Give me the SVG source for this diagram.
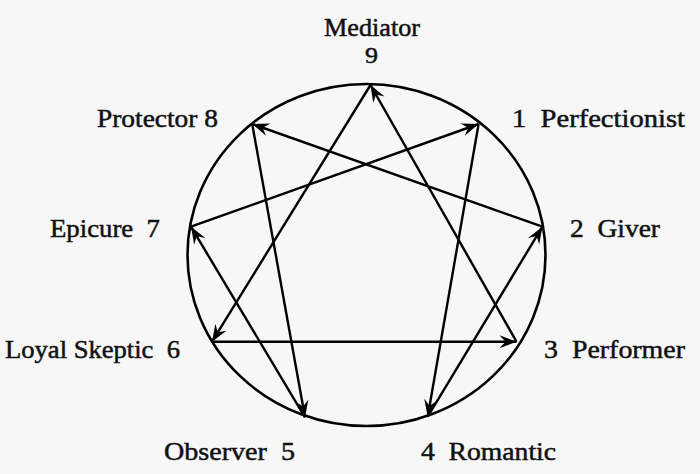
<svg xmlns="http://www.w3.org/2000/svg" width="700" height="474" viewBox="0 0 700 474">
<defs>
<marker id="ah" markerUnits="userSpaceOnUse" markerWidth="20" markerHeight="16" viewBox="-18 -8 20 16" refX="0" refY="0" orient="auto">
<path d="M0,0 L-17,-6.5 L-11,0 L-17,6.5 Z" fill="#000"/>
</marker>
<style>
.lbl{font-family:"Liberation Serif","Times New Roman",serif;font-size:26px;fill:#111;stroke:#111;stroke-width:0.5;white-space:pre}
.c{fill:none;stroke:#000;stroke-width:2.6}
.e{stroke:#000;stroke-width:2.4;fill:none;marker-end:url(#ah)}
</style>
</defs>
<rect width="700" height="474" fill="#f7f7f7"/>
<g id="circle"><ellipse class="c" cx="366.5" cy="255" rx="179" ry="171"/></g>
<g id="connectors">
<line class="e" x1="370.5" y1="85" x2="212" y2="341.7"/>
<line class="e" x1="516.5" y1="341.7" x2="370.5" y2="85"/>
<line class="e" x1="212" y1="341.7" x2="516.5" y2="341.7"/>
<line class="e" x1="191" y1="226.7" x2="478.6" y2="124"/>
<line class="e" x1="478.6" y1="124" x2="427.7" y2="416.7"/>
<line class="e" x1="427.7" y1="416.7" x2="542.4" y2="226.7"/>
<line class="e" x1="542.4" y1="226.7" x2="252.2" y2="124"/>
<line class="e" x1="252.2" y1="124" x2="305" y2="417.3"/>
<line class="e" x1="305" y1="417.3" x2="191" y2="226.7"/>
</g>
<g id="n9"><text class="lbl" x="324" y="36" font-size="25" style="font-size:25px" textLength="96" lengthAdjust="spacingAndGlyphs">Mediator</text><text class="lbl" x="365" y="63" style="font-size:24px" textLength="13" lengthAdjust="spacingAndGlyphs">9</text></g>
<g id="n8"><text class="lbl" x="97" y="127" textLength="121" lengthAdjust="spacingAndGlyphs">Protector 8</text></g>
<g id="n1"><text class="lbl" x="512" y="127" textLength="173" lengthAdjust="spacingAndGlyphs">1  Perfectionist</text></g>
<g id="n7"><text class="lbl" x="50" y="237" textLength="110" lengthAdjust="spacingAndGlyphs">Epicure  7</text></g>
<g id="n2"><text class="lbl" x="570" y="237" textLength="90" lengthAdjust="spacingAndGlyphs">2  Giver</text></g>
<g id="n6"><text class="lbl" x="5" y="358" textLength="175" lengthAdjust="spacingAndGlyphs">Loyal Skeptic  6</text></g>
<g id="n3"><text class="lbl" x="544" y="358" textLength="141" lengthAdjust="spacingAndGlyphs">3  Performer</text></g>
<g id="n5"><text class="lbl" x="164" y="460" textLength="131" lengthAdjust="spacingAndGlyphs">Observer  5</text></g>
<g id="n4"><text class="lbl" x="421" y="460" textLength="135" lengthAdjust="spacingAndGlyphs">4  Romantic</text></g>
</svg>
